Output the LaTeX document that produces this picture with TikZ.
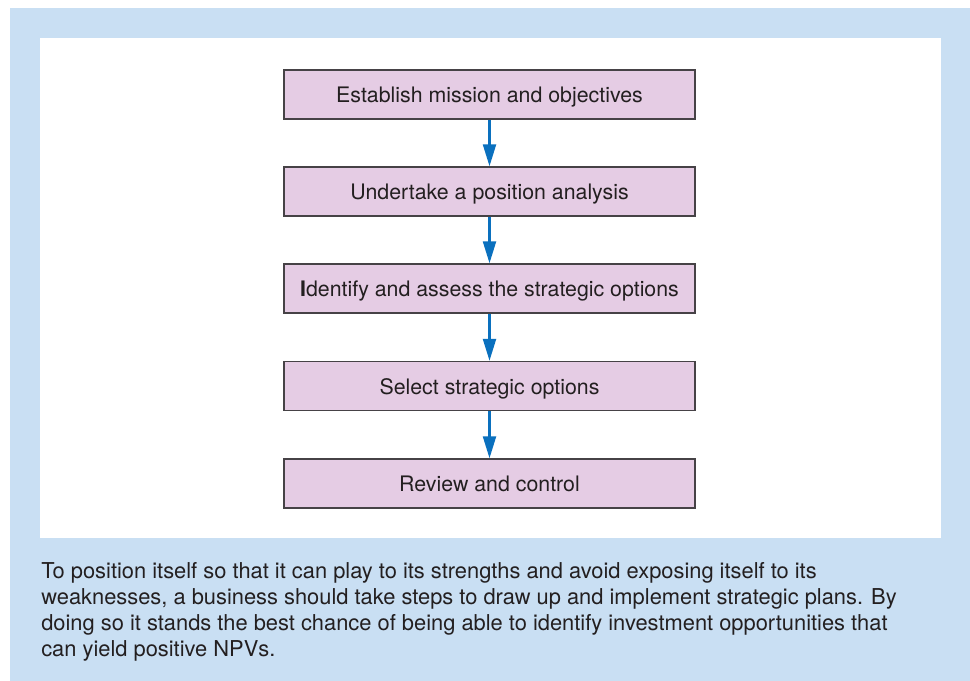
\documentclass[tikz,border=0pt]{standalone}
\usepackage{fontspec}
\setmainfont{TeX Gyre Heros}
\usepackage{tikz}
\usetikzlibrary{arrows.meta}
\definecolor{panelblue}{HTML}{C9DFF3}
\definecolor{boxpink}{HTML}{E5CCE4}
\definecolor{boxline}{HTML}{464246}
\definecolor{flowblue}{HTML}{0A70BE}
\definecolor{inktext}{HTML}{231F20}

\begin{document}
\begin{tikzpicture}[x=0.75pt, y=-0.75pt,
    stage/.style={draw=boxline, line width=1.1pt, fill=boxpink, text=inktext,
      minimum width=308.25pt, minimum height=36.75pt, inner sep=0pt,
      text height=12.5pt, text depth=0pt,
      font=\fontsize{16}{18}\selectfont},
    flow/.style={draw=flowblue, line width=1.7pt,
      -{Triangle[width=9.75pt, length=16.5pt]}}]
    \useasboundingbox (0, 0) rectangle (970, 681);
    \fill[panelblue] (10, 8) rectangle (970, 681);
    \fill[white] (40, 38) rectangle (941, 538);
    \node[stage] (a) at (489.5, 94.5) {Establish mission and objectives};
    \node[stage] (b) at (489.5, 191.5) {Undertake a position analysis};
    \node[stage] (c) at (489.5, 288.5) {\textbf{I}dentify and assess the strategic options};
    \node[stage] (d) at (489.5, 386) {Select strategic options};
    \node[stage] (e) at (489.5, 483.5) {Review and control};
    \draw [flow] (a) to (b);
    \draw [flow] (b) to (c);
    \draw [flow] (c) to (d);
    \draw [flow] (d) to (e);
    \node[anchor=base west, align=left, inner sep=0pt, text=inktext,
      font=\fontsize{16.4}{19.6}\selectfont] (t) at (41, 656.6)
      {To position itself so that it can play to its strengths and avoid exposing itself to its\\
       weaknesses, a business should take steps to draw up and implement strategic plans. By\\
       doing so it stands the best chance of being able to identify investment opportunities that\\
       can yield positive NPVs.};
  \end{tikzpicture}
\end{document}
